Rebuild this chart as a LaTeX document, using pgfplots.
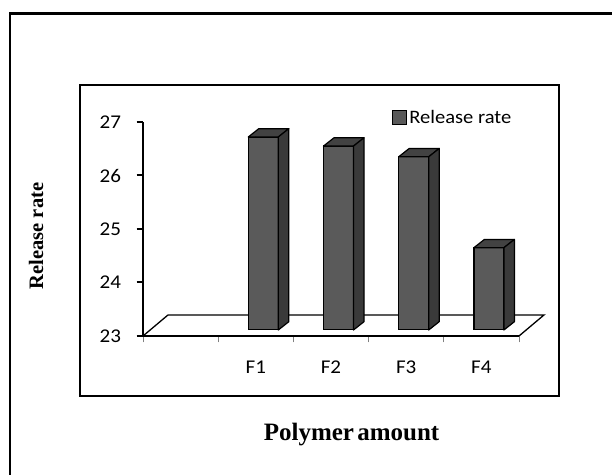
\documentclass[border=0pt]{standalone}
\usepackage{pgfplots}
\pgfplotsset{compat=1.18}
\usepackage{fontspec}
\setmainfont{Carlito}[FakeStretch=1.08]
\newfontfamily\titlefont{Liberation Serif}
\definecolor{barfront}{RGB}{90,90,90}
\definecolor{barside}{RGB}{58,58,58}
\definecolor{bartop}{RGB}{66,66,66}
\begin{document}
\begin{tikzpicture}
\useasboundingbox (0,0) rectangle (612bp,475bp);
\fill[white] (0,0) rectangle (612bp,475bp);
% outer frame
\draw[line width=2.4bp] (10bp,-20bp) -- (10bp,461.5bp) -- (640bp,461.5bp);
% inner frame
\draw[line width=2.6bp] (80bp,79bp) rectangle (559bp,390bp);
% frame axis
\begin{axis}[
  at={(143bp,139bp)}, anchor=south west,
  x=75.2bp, y=53.5bp,
  xmin=-0.5, xmax=4.5, ymin=23, ymax=27,
  axis lines*=left,
  clip=false,
  x axis line style={line width=1.3bp},
  y axis line style={line width=2.4bp},
  ytick={23,24,25,26,27},
  ytick style={line width=2bp, black},
  tick align=outside,
  major tick length=6.5bp,
  xtick={-0.5,0.5,1.5,2.5,3.5,4.5},
  xticklabels={},
  xtick style={line width=1bp, gray},
  extra x ticks={1,2,3,4},
  extra x tick labels={F1,F2,F3,F4},
  extra x tick style={major tick length=0pt, xticklabel style={yshift=-21bp}},
  /pgf/number format/assume math mode=true,
  ticklabel style={font=\fontsize{19.5bp}{21bp}\selectfont},
  yticklabel style={xshift=-12bp},
]
\draw[line width=1.3bp] (axis cs:-0.5,23) -- (axis cs:-0.168,23.3925) -- (axis cs:4.832,23.3925) -- (axis cs:4.5,23);
\end{axis}
% bars axis
\begin{axis}[
  at={(143bp,145bp)}, anchor=south west,
  x=75.2bp, y=53.5bp,
  xmin=-0.5, xmax=4.5, ymin=23.112, ymax=27,
  hide axis,
  legend style={at={(0.662,1.0216)}, anchor=west, draw=none, fill=none, inner sep=0pt,
    font=\fontsize{19bp}{21bp}\selectfont},
  legend image code/.code={\draw[fill=barfront,draw=black,line width=1.3bp] (0bp,-7bp) rectangle (14bp,7bp);},
]
\addplot[ybar, bar width=30bp, bar shift=7.5bp, fill=barfront, draw=black, line width=1.2bp]
  coordinates {(1,26.72) (2,26.55) (3,26.35) (4,24.65)};
\addlegendentry{Release rate}
\addplot[forget plot, scatter, only marks, mark=*, mark size=0.1pt,
  visualization depends on={rawy \as \ry},
  scatter/@pre marker code/.code={%
    \pgfmathsetlengthmacro\h{(\ry-23.112)*53.5bp}%
    \filldraw[fill=bartop, draw=black, line width=1.2bp, line join=round, draw opacity=1, fill opacity=1]
      (-7.5bp,0pt) -- (22.5bp,0pt) -- (33bp,8.3bp) -- (3bp,8.3bp) -- cycle;
    \filldraw[fill=barside, draw=black, line width=1.2bp, line join=round, draw opacity=1, fill opacity=1]
      (22.5bp,0pt) -- (33bp,8.3bp) -- (33bp,{8.3bp-\h}) -- (22.5bp,-\h) -- cycle;
  },
  scatter/@post marker code/.code={},
  mark options={draw=black, fill=black},
] coordinates {(1,26.72) (2,26.55) (3,26.35) (4,24.65)};
\end{axis}
\node[anchor=base, font=\titlefont\bfseries\fontsize{25bp}{27bp}\selectfont] at (351.5bp,35bp) {Polymer\kern-0.12em\ amount};
\node[anchor=base, rotate=90, font=\titlefont\bfseries\fontsize{20.5bp}{22bp}\selectfont] at (43bp,239bp) {Release rate};
\end{tikzpicture}
\end{document}
